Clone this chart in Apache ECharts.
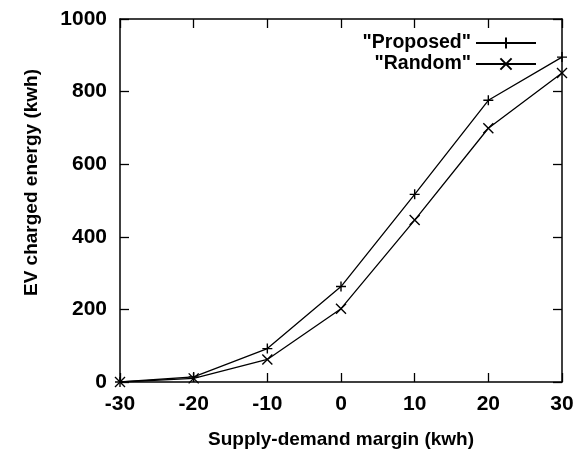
<!DOCTYPE html>
<html>
<head>
<meta charset="utf-8">
<script src="https://cdn.jsdelivr.net/npm/echarts@6/dist/echarts.min.js"></script>
<style>
html,body{margin:0;padding:0;background:#fff;}
#chart{width:582px;height:452px;}
</style>
</head>
<body>
<div id="chart"></div>
<script>
const margins = [-30, -20, -10, 0, 10, 20, 30];
const proposed = [0, 14, 92, 263, 517, 776, 895];
const random = [0, 10, 62, 202, 446, 699, 851];
const seriesNames = ['"Proposed"', '"Random"'];
const xTicks = {min: -30, max: 30, interval: 10};
const yTicks = {min: 0, max: 1000, interval: 200};

const FONT = 'Liberation Sans';
const chart = echarts.init(document.getElementById('chart'), null, {renderer: 'canvas'});

const axisBase = {
  axisLine: {show: true, onZero: false, lineStyle: {color: '#000', width: 1.5}},
  axisTick: {show: true, inside: true, length: 9, lineStyle: {color: '#000', width: 1.3}},
  splitLine: {show: false}
};

const plusPath = 'path://M0,5L10,5M5,0L5,10';
const crossPath = 'path://M0,0L10,10M10,0L0,10';

function pair(a, b) { return a.map((v, i) => [v, b[i]]); }
const plain = v => String(v);

const legendText = {fontFamily: FONT, fontWeight: 'bold', fontSize: 19.5, color: '#000'};

const option = {
  backgroundColor: '#fff',
  animation: false,
  textStyle: {fontFamily: FONT, fontWeight: 'bold', color: '#000'},
  grid: {left: 120, right: 20, top: 19, bottom: 70, outerBoundsMode: 'none', containLabel: false},
  legend: [
    {
      data: [seriesNames[0]], right: 45, top: 33, align: 'right', orient: 'vertical',
      itemWidth: 60, itemHeight: 14, padding: 0, textStyle: legendText
    },
    {
      data: [seriesNames[1]], right: 45, top: 54, align: 'right', orient: 'vertical',
      itemWidth: 60, itemHeight: 14, padding: 0, textStyle: legendText
    }
  ],
  xAxis: [
    Object.assign({}, axisBase, {
      type: 'value', position: 'bottom', min: xTicks.min, max: xTicks.max, interval: xTicks.interval,
      name: 'Supply-demand margin (kwh)', nameLocation: 'middle', nameGap: 48,
      nameTextStyle: {fontFamily: FONT, fontWeight: 'bold', fontSize: 19, color: '#000'},
      axisLabel: {fontFamily: FONT, fontWeight: 'bold', fontSize: 21, color: '#000', margin: 12, formatter: plain}
    }),
    Object.assign({}, axisBase, {
      type: 'value', position: 'top', min: xTicks.min, max: xTicks.max, interval: xTicks.interval,
      axisLabel: {show: false}
    })
  ],
  yAxis: [
    Object.assign({}, axisBase, {
      type: 'value', position: 'left', min: yTicks.min, max: yTicks.max, interval: yTicks.interval,
      name: 'EV charged energy (kwh)', nameLocation: 'middle', nameGap: 79,
      nameTextStyle: {fontFamily: FONT, fontWeight: 'bold', fontSize: 19, color: '#000', padding: [0, 0, 0, 36]},
      axisLabel: {fontFamily: FONT, fontWeight: 'bold', fontSize: 21, color: '#000', margin: 13, formatter: plain}
    }),
    Object.assign({}, axisBase, {
      type: 'value', position: 'right', min: yTicks.min, max: yTicks.max, interval: yTicks.interval,
      axisLabel: {show: false}
    })
  ],
  series: [
    {
      name: seriesNames[0], type: 'line', data: pair(margins, proposed),
      symbol: plusPath, symbolSize: 10, showAllSymbol: true,
      lineStyle: {color: '#000', width: 1.3},
      itemStyle: {color: 'transparent', borderColor: '#000', borderWidth: 1.4}
    },
    {
      name: seriesNames[1], type: 'line', data: pair(margins, random),
      symbol: crossPath, symbolSize: 10, showAllSymbol: true,
      lineStyle: {color: '#000', width: 1.3},
      itemStyle: {color: 'transparent', borderColor: '#000', borderWidth: 1.4}
    }
  ]
};
chart.setOption(option);
</script>
</body>
</html>
